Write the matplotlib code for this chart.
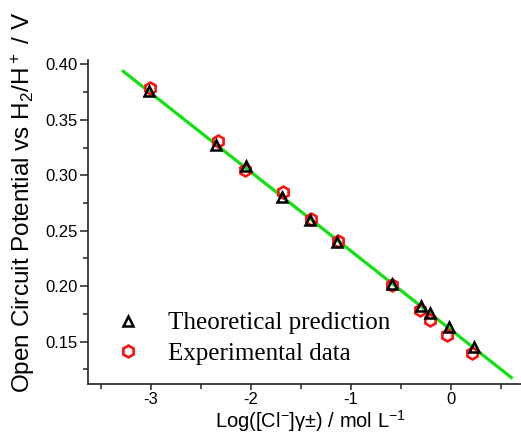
import numpy as np
import matplotlib
matplotlib.use("Agg")
import matplotlib.pyplot as plt
from matplotlib.ticker import MultipleLocator

plt.rcParams['font.family'] = ['Liberation Sans', 'DejaVu Sans']
plt.rcParams['mathtext.default'] = 'regular'

# Theoretical prediction
x_theo = [-3.014, -2.345, -2.049, -1.690, -1.407, -1.135, -0.589, -0.302, -0.203, -0.020, 0.230]
y_theo = [0.376, 0.327, 0.308, 0.280, 0.260, 0.240, 0.202, 0.182, 0.176, 0.163, 0.145]
# Experimental data
x_exp = [-3.004, -2.331, -2.056, -1.680, -1.400, -1.125, -0.586, -0.309, -0.210, -0.033, 0.217]
y_exp = [0.379, 0.331, 0.305, 0.285, 0.261, 0.241, 0.201, 0.179, 0.170, 0.156, 0.140]
# Linear fit range
fit_x_range = [-3.276, 0.606]

W, H = 521, 434
fig = plt.figure(figsize=(W / 100, H / 100), dpi=100)
ax = fig.add_axes([88.3 / W, 1 - 384.3 / H, (520.7 - 88.3) / W, (384.3 - 60) / H])

coef = np.polyfit(x_theo, y_theo, 1)
xf = np.array(fit_x_range)
ax.plot(xf, np.polyval(coef, xf), color='#11e011', lw=2.3, zorder=1)

ax.plot(x_theo, y_theo, linestyle='none', marker='^', ms=7.5, mfc='none',
        mec='black', mew=1.8, label='Theoretical prediction', zorder=3)
ax.plot(x_exp, y_exp, linestyle='none', marker='h', ms=8.5, mfc='none',
        mec='#ff1010', mew=1.9, label='Experimental data', zorder=2)

ax.set_xlim(-3.626, 0.7)
ax.set_ylim(0.1116, 0.4039)

for s in ['top', 'right']:
    ax.spines[s].set_visible(False)
for s in ['left', 'bottom']:
    ax.spines[s].set_linewidth(1.2)
    ax.spines[s].set_color('#222222')

ax.xaxis.set_minor_locator(MultipleLocator(0.5))
ax.yaxis.set_minor_locator(MultipleLocator(0.025))
ax.set_yticks([0.15, 0.20, 0.25, 0.30, 0.35, 0.40])
ax.set_yticklabels(['0.15', '0.20', '0.25', '0.30', '0.35', '0.40'])
ax.set_xticks([-3, -2, -1, 0])
ax.set_xticklabels(['-3', '-2', '-1', '0'])
ax.tick_params(which='major', direction='out', width=1.1, labelsize=12, color='#222222')
ax.tick_params(axis='y', which='major', length=5.5, pad=2)
ax.tick_params(axis='x', which='major', length=4, pad=1.5)
ax.tick_params(which='minor', direction='out', length=3.5, width=1.1, color='#222222')

fig.text(23 / W, 1 - 202 / H, 'Open Circuit Potential vs H$_2$/H$^+$ / V', fontsize=17.5,
         rotation=90, ha='center', va='center')
fig.text(310 / W, 1 - 428 / H, 'Log([Cl$^{-}$]γ±) / mol L$^{-1}$', fontsize=14.5,
         ha='center', va='baseline')

leg = ax.legend(loc='lower left', bbox_to_anchor=(0.056, 0.06), frameon=False,
                prop={'family': 'Liberation Serif', 'size': 18}, borderpad=0,
                borderaxespad=0, handletextpad=1.0, labelspacing=0.32, handlelength=1.2)

fig.savefig('out.png', dpi=100)
